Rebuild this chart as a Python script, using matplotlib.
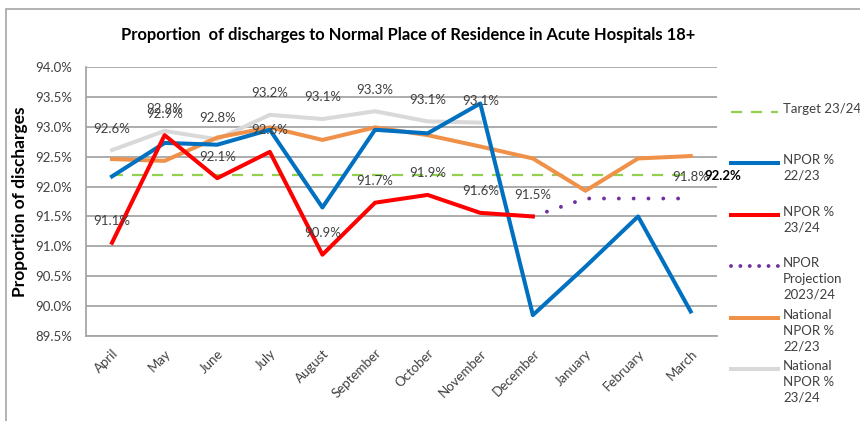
import matplotlib
matplotlib.use("Agg")
import matplotlib.pyplot as plt
from matplotlib.lines import Line2D
from matplotlib.patches import Rectangle
from matplotlib.ticker import FuncFormatter

plt.rcParams['font.family'] = ['Lato', 'DejaVu Sans']

months = ["April", "May", "June", "July", "August", "September", "October",
          "November", "December", "January", "February", "March"]
npor_2223 = [92.17, 92.73, 92.70, 92.95, 91.65, 92.95, 92.89, 93.39, 89.85, 90.66, 91.50, 89.91]
npor_2324 = [91.06, 92.86, 92.14, 92.58, 90.86, 91.73, 91.86, 91.56, 91.50]
projection = [None] * 8 + [91.50, 91.80, 91.80, 91.80]
national_2223 = [92.46, 92.43, 92.82, 92.99, 92.78, 92.99, 92.86, 92.67, 92.47, 91.93, 92.47, 92.51]
national_2324 = [92.61, 92.93, 92.79, 93.20, 93.13, 93.26, 93.09, 93.07]
target = [92.2] * 12

title = "Proportion  of discharges to Normal Place of Residence in Acute Hospitals 18+"

W, H = 860, 421
fig = plt.figure(figsize=(W / 100, H / 100), dpi=100)
ax = fig.add_axes([85.7 / W, 1 - 336 / H, (717 - 85.7) / W, (336 - 67) / H])

x = list(range(len(months)))
lw = 2.9
dot_kw = dict(lw=2.8, dash_capstyle="round")
ax.plot(x, target, color="#92D050", lw=1.6, dashes=(5, 4), zorder=2)
ax.plot(x[:len(national_2324)], national_2324, color="#D9D9D9", lw=lw, zorder=3)
ax.plot(x, national_2223, color="#F0914A", lw=lw, zorder=3)
ax.plot(x, npor_2223, color="#0070C0", lw=lw, zorder=4)
ax.plot(x[:len(npor_2324)], npor_2324, color="#FF0000", lw=lw, zorder=5)
px = [i for i, v in enumerate(projection) if v is not None]
py = [v for v in projection if v is not None]
ax.plot(px, py, color="#7030A0", linestyle=(0, (0.01, 3.8)), zorder=4, **dot_kw)

lab_kw = dict(textcoords="offset points", ha="center", va="center",
              fontsize=9.5, color="#404040", zorder=6)
for i, v in enumerate(national_2324):
    ax.annotate(f"{v:.1f}%", (i, v), xytext=(0, 15.5), **lab_kw)
for i, v in enumerate(npor_2324):
    ax.annotate(f"{v:.1f}%", (i, v), xytext=(0, 15.5), **lab_kw)
ax.annotate(f"{projection[-1]:.1f}%", (11, projection[-1]), xytext=(0, 15.5), **lab_kw)
ax.annotate(f"{target[-1]:.1f}%", (11, target[-1]), xytext=(10, -1), textcoords="offset points",
            ha="left", va="center", fontsize=9.5, fontweight="bold", color="#000000", zorder=6)

ax.set_xlim(-0.5, 11.5)
ax.set_ylim(89.5, 94.0)
ax.set_yticks([89.5 + 0.5 * k for k in range(10)])
ax.yaxis.set_major_formatter(FuncFormatter(lambda v, p: f"{v:.1f}%"))
ax.set_xticks(x)
ax.set_xticklabels(months, rotation=45, ha="right", rotation_mode="anchor")
ax.tick_params(axis="both", length=0, labelsize=9.5, labelcolor="#404040")
ax.tick_params(axis="x", pad=8)
ax.tick_params(axis="y", pad=10)
ax.grid(axis="y", color="#A6A6A6", lw=1.3)
ax.set_axisbelow(True)
for s in ["top", "right"]:
    ax.spines[s].set_visible(False)
for s in ["left", "bottom"]:
    ax.spines[s].set_color("#A6A6A6")
    ax.spines[s].set_linewidth(1.3)
ax.set_ylabel("Proportion of discharges", fontsize=12.5, fontweight="bold", labelpad=5)

fig.text(408 / W, 1 - 35 / H, title, ha="center", va="center", fontsize=11.9, fontweight="bold")

# legend drawn by hand
legend_items = [
    ("Target 23/24", "#92D050", dict(lw=1.6, dashes=(5, 4)), 112),
    ("NPOR %\n22/23", "#0070C0", dict(lw=lw), 163),
    ("NPOR %\n23/24", "#FF0000", dict(lw=lw), 215),
    ("NPOR\nProjection\n2023/24", "#7030A0", dict(linestyle=(0, (0.01, 2.4)), **dot_kw), 266),
    ("National\nNPOR %\n22/23", "#F0914A", dict(lw=lw), 318),
    ("National\nNPOR %\n23/24", "#D9D9D9", dict(lw=lw), 369),
]
for label, col, kw, yy in legend_items:
    fig.add_artist(Line2D([731 / W, 778 / W], [1 - yy / H, 1 - yy / H], color=col,
                          transform=fig.transFigure, **kw))
    fig.text(783 / W, 1 - (yy - 9) / H, label, ha="left", va="top", fontsize=9.5,
             color="#404040", linespacing=1.38)

fig.add_artist(Rectangle((6 / W, -0.05), 1.2, 1 - 9 / H + 0.05, transform=fig.transFigure,
                         fill=False, edgecolor="#A6A6A6", lw=1.2))

fig.savefig("out.png", dpi=100)
